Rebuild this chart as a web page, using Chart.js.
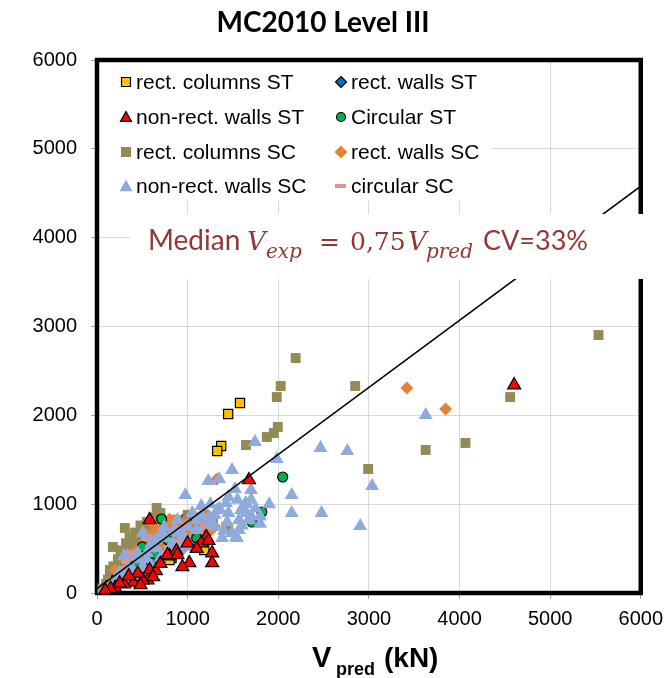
<!DOCTYPE html>
<html>
<head>
<meta charset="utf-8">
<script src="https://cdn.jsdelivr.net/npm/chart.js@4"></script>
<style>
  html, body { margin: 0; padding: 0; background: #fff; }
</style>
</head>
<body>
<canvas id="chart" width="671" height="678"></canvas>
<script>
// series names, same order as the legend
const seriesNames = ['rect. columns ST', 'rect. walls ST', 'non-rect. walls ST', 'Circular ST',
  'rect. columns SC', 'rect. walls SC', 'non-rect. walls SC', 'circular SC'];
const tickValues = [0, 1000, 2000, 3000, 4000, 5000, 6000];

// [Vpred, Vexp] in kN
const rectColumnsST = [[1578,2139],[1447,2015],[1370,1655],[1326,1598],[1184,484],[822,394],[504,743],
  [800,371],[160,140],[300,330],[470,620],[980,720],[1100,560],[650,600],[250,200],[60,40],[380,420]];
const rectWallsST = [[986,856],[274,371],[150,120],[450,400],[600,560],[700,500],[380,300],[90,70],
  [820,640],[1050,760]];
const nonRectWallsST = [[4603,2341],[1677,1272],[581,822],[1205,630],[1271,450],[1271,338],[1019,338],
  [942,293],[800,416],[581,259],[559,146],[504,146],[400,120],[1150,560],[877,473],[300,100],[200,60],
  [1230,590],[650,250],[700,330],[450,220],[350,190],[150,50],[1100,500],[620,180],[480,90],[250,110],
  [90,30],[1000,560],[778,428],[888,428]];
const circularST = [[2049,1306],[1819,912],[1710,799],[712,833],[636,416],[603,338],[350,250],[500,520],
  [200,150],[420,310],[780,600],[110,80],[1100,620]];
const rectColumnsSC = [[5534,2904],[4559,2206],[4066,1689],[3627,1610],[2992,1396],[2849,2330],[2192,2645],
  [2027,2330],[1984,2206],[1995,1869],[1951,1801],[1874,1756],[1644,1666],[658,957],[1425,743],[1052,574],
  [1280,800],[900,700],[500,600],[400,500],[300,420],[250,300],[600,700],[800,650],[200,250],[150,180],
  [350,330],[700,560],[1000,620],[450,450],[100,100],[1150,700],[550,520],[307,732],[175,518],[142,259],
  [285,450],[395,597],[504,630],[581,518],[658,405],[750,480],[850,560],[950,700],[1100,780],[1200,650],
  [380,260],[220,160],[60,50],[120,150],[180,300],[230,380],[320,560],[260,480],[420,680],[480,760],
  [360,620],[550,800],[620,850],[700,900],[780,760],[880,820],[150,60],[400,350],[520,430],[680,620],
  [1000,880]];
const rectWallsSC = [[3419,2308],[3847,2071],[1320,1280],[1000,780],[800,830],[900,700],[600,800],[700,600],
  [500,550],[400,450],[1150,750],[1250,700],[350,300],[250,200],[150,120],[600,450],[850,550],[450,350],
  [1050,650],[1300,750],[700,750],[300,380],[550,650],[950,500],[1100,850],[750,680],[200,260],[650,380],
  [1200,900],[850,820],[438,293],[300,250],[400,300],[500,450],[650,700],[750,550],[900,620],[1000,700],
  [1100,650],[1200,820],[550,480],[480,520],[350,420],[800,720],[950,780]];
const nonRectWallsSC = [[3627,2004],[3036,1205],[2762,1599],[2466,1632],[2904,754],[2477,900],[2148,900],
  [2148,1103],[1984,1508],[1743,1700],[1490,1385],[1348,1283],[1227,1261],[1523,1171],[1699,1160],[975,1103],
  [1633,1002],[1151,980],[1545,619],[1425,1013],[1644,1013],[1238,856],[1326,934],[1436,799],[1567,822],
  [1677,822],[1589,934],[1534,630],[1567,709],[1096,709],[932,675],[833,563],[888,822],[745,743],[504,675],
  [219,180],[449,450],[723,675],[877,687],[1300,750],[1400,700],[1700,870],[1800,780],[1200,600],[1000,520],
  [650,500],[550,380],[350,280],[300,420],[150,100],[80,50],[400,250],[600,560],[1450,900],[1750,950],
  [1100,820],[1380,620],[1600,760],[1800,860],[700,400],[500,300],[250,230],[950,650],[1300,880],[1250,780],
  [1490,675],[200,150],[300,200],[450,380],[550,450],[650,600],[750,620],[850,700],[1000,750],[1150,880],
  [1250,1000],[1350,950],[1450,1080],[1550,1050],[1650,900],[1900,1000],[1050,900],[1700,1050],[400,180],
  [600,300],[900,480],[1150,560]];
const circularSC = [[888,563],[340,370],[360,180],[500,300],[700,450],[200,100],[600,400],[1000,600],
  [800,500],[450,250],[250,150],[1100,700],[150,90],[650,480],[950,560],[550,620],[300,260],[1200,760],
  [548,540],[340,450],[855,563]];

// fitted line
const lineX = [0, 6000];
const lineY = [50, 4580];

const toPts = arr => arr.map(p => ({ x: p[0], y: p[1] }));

// pink dash marker for circular SC
const pinkMark = document.createElement('canvas');
pinkMark.width = 12; pinkMark.height = 7;
const pctx = pinkMark.getContext('2d');
pctx.fillStyle = '#D99694';
pctx.fillRect(0, 0, 12, 7);

const styles = [
  { style: 'rect', r: 6.5, fill: '#FFC000', stroke: '#000', bw: 1.2 },
  { style: 'rectRot', r: 6, fill: '#0070C0', stroke: '#000', bw: 1.2 },
  { style: 'triangle', r: 7.5, fill: '#FF0000', stroke: '#000', bw: 1.2 },
  { style: 'circle', r: 5, fill: '#00B050', stroke: '#000', bw: 1.2 },
  { style: 'rect', r: 7, fill: '#948A54', stroke: '#948A54', bw: 0 },
  { style: 'rectRot', r: 6.5, fill: '#E5823A', stroke: '#E5823A', bw: 0 },
  { style: 'triangle', r: 8, fill: '#8FAADC', stroke: '#8FAADC', bw: 0 },
  { style: pinkMark, r: 6, fill: '#D99694', stroke: '#D99694', bw: 0 }
];
const seriesData = [rectColumnsST, rectWallsST, nonRectWallsST, circularST,
  rectColumnsSC, rectWallsSC, nonRectWallsSC, circularSC];

function scatterSet(i) {
  const s = styles[i];
  return {
    type: 'scatter',
    label: seriesNames[i],
    data: toPts(seriesData[i]),
    pointStyle: s.style,
    pointRadius: s.r,
    pointBackgroundColor: s.fill,
    pointBorderColor: s.stroke,
    pointBorderWidth: s.bw,
    clip: false
  };
}

// first dataset ends up on top
const datasets = [{
  type: 'line',
  label: 'median',
  data: lineX.map((x, i) => ({ x: x, y: lineY[i] })),
  borderColor: '#000',
  borderWidth: 1.5,
  pointRadius: 0,
  fill: false
}];
[2, 6, 3, 7, 5, 4, 0, 1].forEach(i => datasets.push(scatterSet(i)));

function legendMark(ctx, i, x, y) {
  const s = styles[i];
  ctx.beginPath();
  if (i === 7) {
    ctx.fillStyle = s.fill;
    ctx.fillRect(x - 6, y - 2, 11, 4);
    return;
  }
  const r = [4.5, 5.5, 5.5, 4.5, 5, 6.5, 6.5][i];
  if (s.style === 'rect') ctx.rect(x - r, y - r, 2 * r, 2 * r);
  else if (s.style === 'rectRot') {
    ctx.moveTo(x, y - r); ctx.lineTo(x + r, y); ctx.lineTo(x, y + r); ctx.lineTo(x - r, y); ctx.closePath();
  } else if (s.style === 'triangle') {
    ctx.moveTo(x, y - r); ctx.lineTo(x + r, y + r * 0.8); ctx.lineTo(x - r, y + r * 0.8); ctx.closePath();
  } else ctx.arc(x, y, r, 0, Math.PI * 2);
  ctx.fillStyle = s.fill;
  ctx.fill();
  if (s.bw) { ctx.lineWidth = 1.2; ctx.strokeStyle = '#000'; ctx.stroke(); }
}

const decor = {
  id: 'decor',
  beforeDatasetsDraw(chart) {
    const { ctx, chartArea: a } = chart;
    ctx.save();
    ctx.fillStyle = '#fff';
    ctx.fillRect(a.left + 3, a.top + 3, 392, 138);
    ctx.lineWidth = 4.5;
    ctx.lineJoin = 'miter';
    ctx.strokeStyle = '#000';
    ctx.strokeRect(a.left, a.top, a.right - a.left, a.bottom - a.top);
    ctx.restore();
  },
  afterDatasetsDraw(chart) {
    const ctx = chart.ctx;
    ctx.save();
    // equation box
    ctx.fillStyle = '#fff';
    ctx.fillRect(130, 214, 522, 65);
    ctx.fillStyle = '#943634';
    ctx.textBaseline = 'alphabetic';
    ctx.textAlign = 'left';
    const parts = [
      ['Median', 148, '28px Lato', 0],
      ['V', 247, 'italic 26px "DejaVu Serif"', 0],
      ['exp', 266, 'italic 20px "DejaVu Serif"', 8],
      ['=', 319, '25px "DejaVu Serif"', 0],
      ['0,75', 350, '25px "DejaVu Serif"', 0],
      ['V', 408, 'italic 26px "DejaVu Serif"', 0],
      ['pred', 426, 'italic 20px "DejaVu Serif"', 8],
      ['CV=33%', 483, '27px Lato', 0]
    ];
    parts.forEach(p => { ctx.font = p[2]; ctx.fillText(p[0], p[1], 250 + p[3]); });

    // legend
    ctx.font = '21px "Liberation Sans", Arial, sans-serif';
    ctx.textBaseline = 'middle';
    const colMark = [126, 341], colText = [136, 351], rowY = [82, 117, 152, 186];
    seriesNames.forEach((name, i) => {
      const c = i % 2, r = Math.floor(i / 2);
      legendMark(ctx, i, colMark[c], rowY[r]);
      ctx.fillStyle = '#000';
      ctx.fillText(name, colText[c], rowY[r] + 1);
    });
    ctx.restore();
  },
  afterDraw(chart) {
    const ctx = chart.ctx;
    ctx.save();
    ctx.fillStyle = '#000';
    ctx.textBaseline = 'alphabetic';
    ctx.textAlign = 'center';
    ctx.font = 'bold 28px Lato';
    ctx.fillText('MC2010 Level III', 323, 32);
    ctx.textAlign = 'left';
    ctx.font = 'bold 29px "Liberation Sans", Arial, sans-serif';
    ctx.fillText('V', 312, 667);
    ctx.font = 'bold 18px "Liberation Sans", Arial, sans-serif';
    ctx.fillText('pred', 336, 675);
    ctx.font = 'bold 28px "Liberation Sans", Arial, sans-serif';
    ctx.fillText('(kN)', 384, 667);
    ctx.restore();
  }
};

const tickFont = { family: '"Liberation Sans", Arial, sans-serif', size: 20 };

new Chart(document.getElementById('chart'), {
  data: { datasets: datasets },
  options: {
    responsive: false,
    animation: false,
    events: [],
    layout: { padding: { top: 60, right: 26.5, left: 0, bottom: 0 } },
    plugins: { legend: { display: false }, tooltip: { enabled: false }, title: { display: false } },
    scales: {
      x: {
        type: 'linear', min: 0, max: 6000,
        afterBuildTicks: s => { s.ticks = tickValues.map(v => ({ value: v })); },
        afterFit: s => { s.height = 85; },
        grid: { color: '#d9d9d9', tickColor: '#a6a6a6', tickLength: 6, lineWidth: 1 },
        border: { display: false },
        ticks: { color: '#000', font: tickFont, padding: 8, maxRotation: 0, callback: v => String(v) }
      },
      y: {
        type: 'linear', min: 0, max: 6000,
        afterBuildTicks: s => { s.ticks = tickValues.map(v => ({ value: v })); },
        afterFit: s => { s.width = 97; },
        grid: { color: '#d9d9d9', tickColor: '#a6a6a6', tickLength: 6, lineWidth: 1 },
        border: { display: false },
        ticks: { color: '#000', font: tickFont, padding: 14, callback: v => String(v) }
      }
    }
  },
  plugins: [decor]
});
</script>
</body>
</html>
